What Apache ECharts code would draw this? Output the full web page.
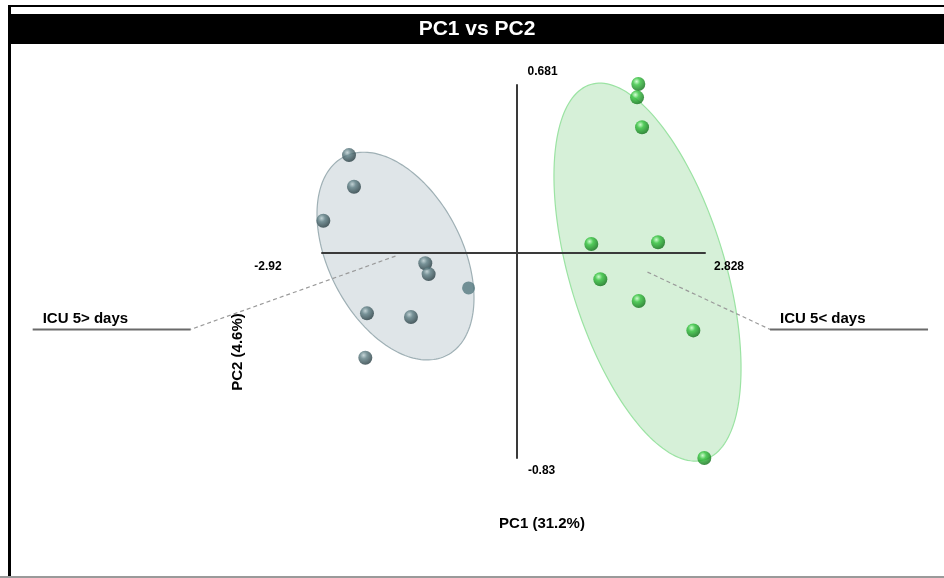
<!DOCTYPE html>
<html><head><meta charset="utf-8">
<script src="https://cdn.jsdelivr.net/npm/echarts@6/dist/echarts.min.js"></script>
<style>html,body{margin:0;padding:0;background:#fff}#c{width:944px;height:578px}</style>
</head><body><div id="c"></div>
<script>
// ---------- data ----------
const chartTitle = 'PC1 vs PC2';
const xRange = [-2.92, 2.828];
const yRange = [-0.83, 0.681];
const xTickLabels = ['-2.92', '2.828'];
const yTickLabels = ['-0.83', '0.681'];
const xAxisTitle = 'PC1 (31.2%)';
const yAxisTitle = 'PC2 (4.6%)';
const groupNames = ['ICU 5> days', 'ICU 5< days'];
const grayPoints = [[-2.515,0.397],[-2.44,0.269],[-2.90,0.131],[-1.37,-0.041],[-1.32,-0.085],[-2.245,-0.244],[-1.585,-0.259],[-2.27,-0.424]];
const grayFlatPoints = [[-0.72,-0.141]];
const greenPoints = [[1.827,0.685],[1.808,0.631],[1.883,0.510],[1.122,0.037],[2.123,0.044],[1.257,-0.106],[1.833,-0.194],[2.653,-0.313],[2.818,-0.830]];
const ellipseCenters = [[-1.817,-0.012],[1.965,-0.077]];
const ellipseAxisU = [[0.773,-0.402],[0.853,-0.760]];
const ellipseAxisV = [[-0.889,-0.124],[-1.115,-0.091]];
const labelElbows = [[-4.891,-0.309],[3.804,-0.309]];

// ---------- styles ----------
const FONT = "'Liberation Sans', Arial, sans-serif";
const ellipseFill = ['#dfe5e8', '#d6f0d8'];
const ellipseStroke = ['#9fb0b5', '#9be3a3'];
const graySphere = {type:'radial', x:0.38, y:0.32, r:0.72, colorStops:[{offset:0,color:'#b9cccf'},{offset:0.35,color:'#5d7d83'},{offset:1,color:'#21353a'}]};
const greenSphere = {type:'radial', x:0.38, y:0.32, r:0.72, colorStops:[{offset:0,color:'#c9ffc9'},{offset:0.35,color:'#32c23c'},{offset:1,color:'#0b6a14'}]};

const chart = echarts.init(document.getElementById('c'), null, {renderer:'canvas'});

const option = {
  animation: false,
  backgroundColor: '#fff',
  grid: {left: 322, right: 239, top: 85, bottom: 120},
  xAxis: {type:'value', min:xRange[0], max:xRange[1], z:3,
    axisLine:{show:true, onZero:true, lineStyle:{color:'#3a3a3a', width:2}},
    axisTick:{show:false}, axisLabel:{show:false}, splitLine:{show:false}},
  yAxis: {type:'value', min:yRange[0], max:yRange[1], z:3,
    axisLine:{show:true, onZero:true, lineStyle:{color:'#3a3a3a', width:2}},
    axisTick:{show:false}, axisLabel:{show:false}, splitLine:{show:false}},
  graphic: {elements: [
    {type:'rect', shape:{x:8, y:5, width:3, height:573}, style:{fill:'#000'}, z:100},
    {type:'rect', shape:{x:8, y:5, width:936, height:2}, style:{fill:'#000'}, z:100},
    {type:'rect', shape:{x:11, y:14, width:933, height:30}, style:{fill:'#000'}, z:100},
    {type:'rect', shape:{x:0, y:576, width:944, height:2}, style:{fill:'#9a9a9a'}, z:100},
    {type:'text', x:477, y:29, z:101, style:{text:chartTitle, fill:'#fff', font:'bold 21px ' + FONT, textAlign:'center', textVerticalAlign:'middle'}},
    {type:'text', x:542, y:524, z:101, style:{text:xAxisTitle, fill:'#000', font:'bold 15px ' + FONT, textAlign:'center', textVerticalAlign:'middle'}},
    {type:'text', x:238, y:352, rotation:Math.PI/2, z:101, style:{text:yAxisTitle, fill:'#000', font:'bold 15px ' + FONT, textAlign:'center', textVerticalAlign:'middle'}}
  ]},
  series: [
    { // confidence ellipses
      type:'custom', z:1, silent:true, clip:false,
      data: ellipseCenters.map((c,i)=>[c[0], c[1], i]),
      encode:{x:0, y:1},
      renderItem(params, api){
        const i = params.dataIndex;
        const c = ellipseCenters[i], u = ellipseAxisU[i], v = ellipseAxisV[i];
        const pts = [];
        for (let k=0;k<180;k++){
          const t = k/180*2*Math.PI;
          pts.push(api.coord([c[0]+Math.cos(t)*u[0]+Math.sin(t)*v[0], c[1]+Math.cos(t)*u[1]+Math.sin(t)*v[1]]));
        }
        return {type:'polygon', shape:{points:pts}, style:{fill:ellipseFill[i], stroke:ellipseStroke[i], lineWidth:1.2}};
      }
    },
    { // group annotations with leader lines
      type:'custom', z:2, silent:true, clip:false,
      data: labelElbows.map((e,i)=>[e[0], e[1], i]),
      encode:{x:0, y:1},
      renderItem(params, api){
        const i = params.dataIndex;
        const c = api.coord(ellipseCenters[i]);
        const e = api.coord(labelElbows[i]);
        const len = 158;
        const x0 = i === 0 ? e[0]-len : e[0];
        const x1 = i === 0 ? e[0] : e[0]+len;
        return {type:'group', children:[
          {type:'line', shape:{x1:c[0], y1:c[1], x2:e[0], y2:e[1]}, style:{stroke:'#9a9a9a', lineWidth:1.2, lineDash:[4,3]}},
          {type:'line', shape:{x1:x0, y1:e[1], x2:x1, y2:e[1]}, style:{stroke:'#6a6a6a', lineWidth:2}},
          {type:'text', x:x0+10, y:e[1]-11, style:{text:groupNames[i], fill:'#000', font:'bold 15px ' + FONT, textAlign:'left', textVerticalAlign:'middle'}}
        ]};
      }
    },
    { // axis end labels
      type:'custom', z:6, silent:true, clip:false,
      data: [[xRange[0],0,0],[xRange[1],0,1],[0,yRange[1],2],[0,yRange[0],3]],
      encode:{x:0, y:1},
      renderItem(params, api){
        const i = params.dataIndex;
        const p = api.coord([api.value(0), api.value(1)]);
        const texts = [xTickLabels[0], xTickLabels[1], yTickLabels[1], yTickLabels[0]];
        const off = [[-54,14],[24,14],[26,-13],[25,13]];
        return {type:'text', x:p[0]+off[i][0], y:p[1]+off[i][1], style:{text:texts[i], fill:'#000', font:'bold 12px ' + FONT, textAlign:'center', textVerticalAlign:'middle'}};
      }
    },
    {type:'scatter', name:groupNames[0], z:4, clip:false, symbol:'circle', symbolSize:14, data:grayPoints, itemStyle:{color:graySphere}},
    {type:'scatter', name:groupNames[0], z:4, clip:false, symbol:'circle', symbolSize:13, data:grayFlatPoints, itemStyle:{color:'#55797f'}},
    {type:'scatter', name:groupNames[1], z:4, clip:false, symbol:'circle', symbolSize:14, data:greenPoints, itemStyle:{color:greenSphere}}
  ]
};
chart.setOption(option);
</script>
</body></html>
